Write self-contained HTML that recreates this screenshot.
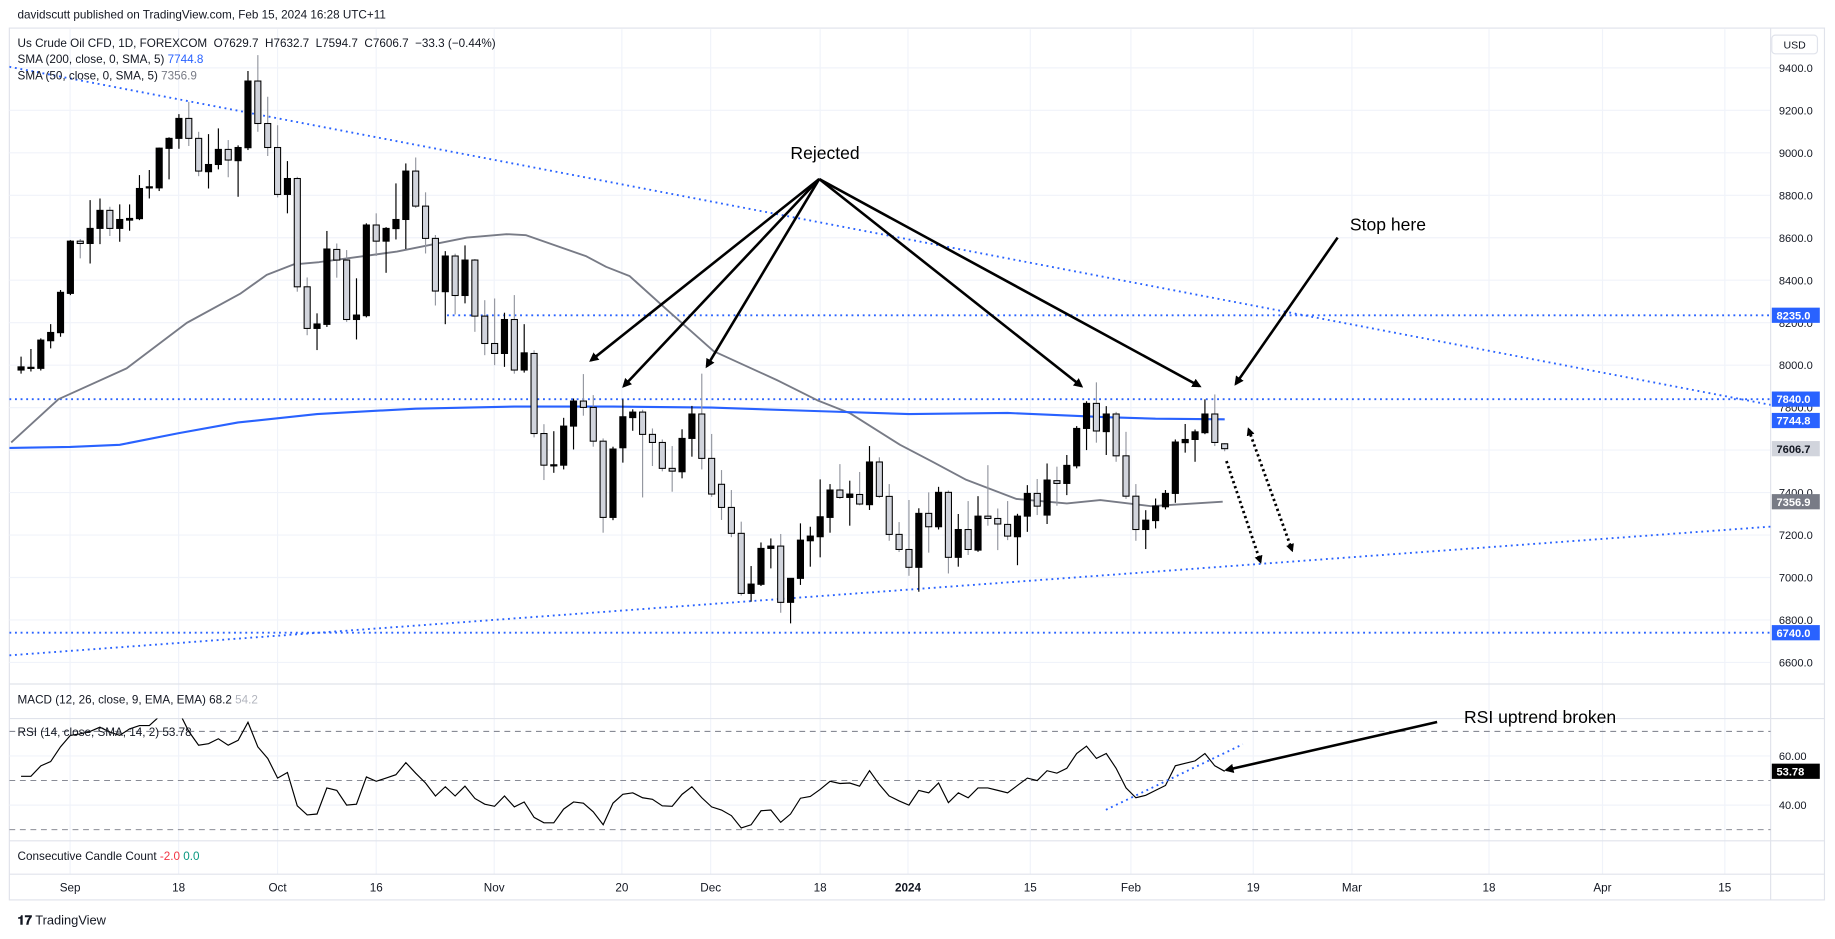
<!DOCTYPE html>
<html><head><meta charset="utf-8">
<style>
html,body{margin:0;padding:0;background:#fff;}
svg{display:block;font-family:"Liberation Sans",sans-serif;}
</style></head>
<body>
<svg id="chart" width="1835" height="939" viewBox="0 0 1568 802.4" preserveAspectRatio="none" xmlns="http://www.w3.org/2000/svg">
<defs>
<marker id="ah" markerWidth="8" markerHeight="8" refX="6" refY="4" orient="auto" markerUnits="userSpaceOnUse"><path d="M0,0 L8,4 L0,8 z" fill="#000"/></marker>
<marker id="ahs" markerWidth="7" markerHeight="7" refX="5" refY="3.5" orient="auto" markerUnits="userSpaceOnUse"><path d="M0,0 L7,3.5 L0,7 z" fill="#000"/></marker>
<marker id="ahr" markerWidth="7" markerHeight="7" refX="2" refY="3.5" orient="auto" markerUnits="userSpaceOnUse"><path d="M7,0 L0,3.5 L7,7 z" fill="#000"/></marker>
<clipPath id="mainClip"><rect x="8" y="25" width="1505" height="559"/></clipPath>
<clipPath id="rsiClip"><rect x="8" y="614" width="1505" height="104"/></clipPath>
</defs>
<rect x="0" y="0" width="1568" height="802.4" fill="#fff"/>
<text x="15" y="16" font-size="10" fill="#131722">davidscutt published on TradingView.com, Feb 15, 2024 16:28 UTC+11</text>
<rect x="8" y="24" width="1551" height="745" fill="none" stroke="#e0e3eb" stroke-width="1"/>
<g id="grid"></g>
<g id="panes"></g>
<g id="mainLayer" clip-path="url(#mainClip)"></g>
<g id="rsiLayer" clip-path="url(#rsiClip)"></g>
<g id="axisLayer"></g>
<g id="annot"></g>
<text x="15" y="40" font-size="10" fill="#131722" xml:space="preserve">Us Crude Oil CFD, 1D, FOREXCOM  O7629.7  H7632.7  L7594.7  C7606.7  −33.3 (−0.44%)</text>
<text x="15" y="54" font-size="10" fill="#131722">SMA (200, close, 0, SMA, 5) <tspan fill="#2962ff">7744.8</tspan></text>
<text x="15" y="68" font-size="10" fill="#131722">SMA (50, close, 0, SMA, 5) <tspan fill="#787b86">7356.9</tspan></text>
<text x="15" y="601" font-size="10" fill="#131722">MACD (12, 26, close, 9, EMA, EMA)  68.2 <tspan fill="#b2b5be">54.2</tspan></text>
<text x="15" y="629" font-size="10" fill="#131722">RSI (14, close, SMA, 14, 2)  53.78</text>
<text x="15" y="735" font-size="10" fill="#131722">Consecutive Candle Count  <tspan fill="#f23645">-2.0</tspan> <tspan fill="#089981">0.0</tspan></text>
<text x="15" y="790" font-size="11" fill="#131722"><tspan font-weight="bold">𝟏𝟕</tspan> TradingView</text>
<g><rect x="1514" y="30" width="39" height="16" rx="3" fill="#fff" stroke="#e0e3eb"/><text x="1533.5" y="41.5" font-size="9" text-anchor="middle" fill="#131722">USD</text></g>
</svg>
<script>
const opens=[7977,7985,7985,8115,8153,8338,8584,8573,8644,8729,8644,8683,8690,8836,8835,9021,9068,9162,9068,8911,8945,9016,8963,9024,9338,9138,9025,8804,8879,8369,8173,8192,8545,8495,8215,8233,8660,8584,8643,8686,8914,8749,8597,8346,8514,8328,8495,8231,8102,8055,8215,7977,8055,7678,7527,7529,7713,7831,7801,7642,7283,7611,7753,7779,7674,7636,7514,7498,7655,7770,7561,7439,7330,7208,6925,6968,7137,7148,6883,6996,7173,7192,7283,7412,7377,7391,7343,7544,7382,7203,7132,7048,7302,7239,7401,7095,7226,7129,7289,7278,7250,7192,7289,7396,7294,7456,7443,7526,7702,7820,7687,7770,7573,7383,7226,7268,7333,7396,7635,7650,7682,7770,7629.7];
const highs=[8040,8076,8126,8193,8354,8589,8594,8777,8785,8746,8757,8757,8895,8919,9025,9073,9182,9240,9099,9088,9115,9060,9035,9385,9460,9264,9130,8961,8887,8413,8244,8632,8573,8542,8409,8668,8715,8650,8856,8950,8978,8814,8613,8537,8525,8564,8500,8306,8314,8247,8330,8193,8070,7722,7689,7752,7843,7958,7859,7655,7616,7839,7792,7790,7702,7650,7619,7698,7808,7960,7676,7506,7412,7263,7054,7165,7184,7205,6996,7255,7239,7462,7440,7534,7456,7497,7619,7566,7440,7261,7365,7326,7401,7427,7410,7299,7360,7383,7529,7325,7360,7300,7435,7464,7537,7522,7577,7713,7830,7919,7807,7780,7686,7440,7317,7372,7412,7650,7723,7697,7839,7862,7632.7];
const lows=[7960,7970,7975,8079,8134,8330,8503,8479,8570,8608,8581,8633,8683,8785,8820,8875,9019,9032,8890,8832,8922,8885,8793,9013,9099,8985,8790,8715,8346,8141,8071,8180,8412,8204,8121,8225,8514,8435,8592,8547,8740,8526,8281,8193,8239,8291,8157,8047,8000,7992,7960,7965,7660,7459,7493,7509,7603,7762,7616,7211,7270,7541,7691,7377,7525,7500,7404,7467,7569,7509,7380,7271,7190,6915,6886,6960,7043,6834,6784,6965,7051,7095,7211,7370,7244,7340,7318,7375,7173,7120,7008,6933,7117,7226,7019,7051,7106,7121,7244,7129,7176,7058,7215,7294,7252,7338,7388,7514,7600,7635,7577,7545,7370,7173,7134,7231,7321,7352,7588,7545,7675,7619,7594.7];
const closes=[7992,7990,8118,8154,8343,8584,8573,8644,8729,8644,8686,8691,8832,8840,9022,9068,9162,9068,8914,8945,9016,8966,9025,9338,9138,9025,8804,8879,8369,8173,8194,8547,8495,8215,8236,8660,8584,8644,8686,8914,8749,8597,8349,8514,8328,8495,8231,8102,8055,8215,7977,8058,7678,7529,7531,7713,7831,7801,7642,7283,7605,7757,7779,7674,7636,7514,7501,7655,7770,7561,7393,7330,7208,6925,6969,7137,7148,6883,6996,7176,7195,7286,7412,7377,7393,7346,7544,7382,7203,7132,7048,7302,7239,7401,7095,7226,7132,7289,7278,7252,7195,7289,7396,7336,7459,7443,7528,7702,7820,7690,7770,7573,7383,7226,7270,7336,7396,7638,7650,7686,7770,7636,7606.7];
const sma200Bars=[-1.2,5,10,16,22,30,40,50,60,70,80,90,100,110,115,122];
const sma200Vals=[7610,7615,7625,7680,7730,7770,7795,7805,7805,7800,7785,7770,7775,7755,7748,7745];
const sma50Bars=[-1,3.8,10.7,16.8,22.2,24.9,27.6,30.2,33,38.1,45.2,49.2,51.2,57.3,59.3,61.7,65.5,70.2,76.6,80.7,84,89.1,92.4,95.8,100.9,106,109.4,114.5,121.8];
const sma50Vals=[7636,7840,7985,8199,8336,8425,8474,8485,8503,8535,8601,8617,8612,8513,8463,8419,8259,8066,7930,7835,7774,7625,7545,7460,7370,7349,7365,7336,7357];
const rsiVals=[51.7,51.7,56,57.7,63.7,68.4,69,70,71.7,69.7,68.4,71,72.4,72.4,76,80,78,70,64.4,65,67,64.4,66.4,73.7,63.7,59,51,53.3,39.7,36,36.4,47,46,40,40.4,51.5,49.7,51,52.4,57.3,53,49,43.7,47.5,43.7,47.7,42.7,40.4,39.5,43.7,39.3,41.3,35,32.8,32.8,38.4,41.3,40.8,37.3,32,40.8,44.4,45,43,42.4,39.7,39.5,44.4,47.5,43,39.3,38,35.7,30.7,32,37.7,38,33,36.4,42.8,43.5,46.4,49.7,48.8,49,47.7,54,48.4,43.7,41.7,40,46,45,49,41,45,43,47,47,46,45,48,51,50,54,53,55,61,64,59,61,55,47,43,44,46,48,56,57,58,61,56,53.78];
const priceTicks=[9400,9200,9000,8800,8600,8400,8200,8000,7800,7600,7400,7200,7000,6800,6600];
const timeLabels=["Sep","18","Oct","16","Nov","20","Dec","18","2024","15","Feb","19","Mar","18","Apr","15"];
const timeLabelBars=[4.97,15.97,26,36,47.96,60.9,69.9,81,89.9,102.3,112.5,124.9,134.9,148.8,160.3,172.7];
const levels=[8235,7840,6740];

const NS="http://www.w3.org/2000/svg";
const X0=18, BW=8.43, PLOT_R=1513;
function xOf(i){return X0+i*BW;}
function yP(p){return 58+(9400-p)/5.511;}
function yR(v){return 667-(v-50)*2.1;}
function mk(tag,attrs,parent){const e=document.createElementNS(NS,tag);for(const k in attrs)e.setAttribute(k,attrs[k]);parent.appendChild(e);return e;}

const grid=document.getElementById('grid');
const panes=document.getElementById('panes');
const main=document.getElementById('mainLayer');
const rsiL=document.getElementById('rsiLayer');
const axis=document.getElementById('axisLayer');
const annot=document.getElementById('annot');

priceTicks.forEach(p=>{
  const l=mk('line',{x1:8,x2:PLOT_R,y1:yP(p),y2:yP(p),stroke:'#f0f3fa','stroke-width':1},grid);
  
  
});
[60,40].forEach(v=>{
  const l=mk('line',{x1:8,x2:PLOT_R,y1:yR(v),y2:yR(v),stroke:'#f0f3fa','stroke-width':1},grid);
  
  
});
timeLabelBars.forEach(b=>{
  const x=xOf(b);
  const l=mk('line',{x1:x,x2:x,y1:25,y2:747,stroke:'#f0f3fa','stroke-width':1},grid);
  
  
});
[584.5,614,718.5,747].forEach(y=>{
  const l=mk('line',{x1:8,x2:1559,y1:y,y2:y,stroke:'#e0e3eb','stroke-width':1},panes);
  
  
});
const sep=mk('line',{x1:PLOT_R,x2:PLOT_R,y1:24,y2:769,stroke:'#e0e3eb','stroke-width':1},panes);



function dotted(x1,y1,x2,y2,name,parent){
  const l=mk('line',{x1:x1,y1:y1,x2:x2,y2:y2,stroke:'#2962ff','stroke-width':1.6,'stroke-dasharray':'1.6 3.2'},parent);
  
  
}
dotted(8,yP(9405),PLOT_R,yP(7813),'descending-trendline',main);
dotted(8,560,PLOT_R,450,'ascending-trendline',main);
dotted(382,yP(levels[0]),PLOT_R,yP(levels[0]),'resistance-8235',main);
dotted(8,yP(levels[1]),PLOT_R,yP(levels[1]),'resistance-7840',main);
dotted(8,yP(levels[2]),PLOT_R,yP(levels[2]),'support-6740',main);

function polyPts(bars,vals){return bars.map((b,k)=>xOf(b).toFixed(1)+','+yP(vals[k]).toFixed(1)).join(' ');}
const s50=mk('polyline',{points:polyPts(sma50Bars,sma50Vals),fill:'none',stroke:'#787b86','stroke-width':1.6,'stroke-linejoin':'round'},main);


const s200=mk('polyline',{points:polyPts(sma200Bars,sma200Vals),fill:'none',stroke:'#2962ff','stroke-width':1.8,'stroke-linejoin':'round'},main);



for(let i=0;i<closes.length;i++){
  const o=opens[i],c=closes[i],h=highs[i],lo=lows[i];
  const up=c>=o;
  const x=xOf(i);
  const g=mk('g',{},main);
  
  
  mk('line',{x1:x,x2:x,y1:yP(h),y2:yP(lo),stroke:up?'#000':'#9598a1','stroke-width':1},g);
  const top=yP(Math.max(o,c)),bot=yP(Math.min(o,c));
  mk('rect',{x:x-2.6,y:top,width:5.2,height:Math.max(bot-top,1),fill:up?'#000':'#d1d4dc',stroke:'#000','stroke-width':0.9},g);
}

[70,50,30].forEach(v=>{
  const l=mk('line',{x1:8,x2:PLOT_R,y1:yR(v),y2:yR(v),stroke:'#787b86','stroke-width':0.8,'stroke-dasharray':'5 4'},rsiL);
  
  
});
const rsiLine=mk('polyline',{points:rsiVals.map((v,i)=>xOf(i).toFixed(1)+','+yR(v).toFixed(1)).join(' '),fill:'none',stroke:'#000','stroke-width':1},rsiL);


const rsiTrend=mk('line',{x1:945,y1:692,x2:1062,y2:636,stroke:'#2962ff','stroke-width':1.6,'stroke-dasharray':'1.6 3.2'},rsiL);



priceTicks.forEach(p=>{
  const t=mk('text',{x:1520,y:yP(p)+3.5,'font-size':9.5,fill:'#131722'},axis);
  t.textContent=p.toFixed(1);
  
  
});
[60,40].forEach(v=>{
  const t=mk('text',{x:1520,y:yR(v)+3.5,'font-size':9.5,fill:'#131722'},axis);
  t.textContent=v.toFixed(2);
  
  
});
function badge(y,txt,bg,fg,name){
  const g=mk('g',{},axis);
  
  
  mk('rect',{x:1514,y:y-6.5,width:41,height:13,fill:bg},g);
  const t=mk('text',{x:1518,y:y+3.5,'font-size':9.5,fill:fg,'font-weight':'bold'},g);
  t.textContent=txt;
}
badge(yP(levels[0]),'8235.0','#2962ff','#fff','badge-8235');
badge(yP(levels[1]),'7840.0','#2962ff','#fff','badge-7840');
badge(yP(7744.8)+1,'7744.8','#2962ff','#fff','badge-sma200');
badge(yP(7606.7),'7606.7','#d1d4dc','#131722','badge-last-price');
badge(yP(7356.9),'7356.9','#787b86','#fff','badge-sma50');
badge(yP(levels[2]),'6740.0','#2962ff','#fff','badge-6740');
badge(yR(53.78),'53.78','#000','#fff','badge-rsi');

timeLabels.forEach((s,k)=>{
  const t=mk('text',{x:xOf(timeLabelBars[k]),y:762,'font-size':10,fill:'#131722','text-anchor':'middle','font-weight':s==='2024'?'bold':'normal'},axis);
  t.textContent=s;
  
  
});

function arrow(x1,y1,x2,y2,name,w){
  const l=mk('line',{x1:x1,y1:y1,x2:x2,y2:y2,stroke:'#000','stroke-width':w||2.2,'marker-end':'url(#ah)'},annot);
  
  
}
const rej=mk('text',{x:705,y:136,'font-size':15,fill:'#000','text-anchor':'middle'},annot);
rej.textContent='Rejected';


[[505,308],[533,330],[604,313],[924,330],[1025,330]].forEach((p,k)=>arrow(700,153,p[0],p[1],'rejected-arrow-'+(k+1)));
const stop=mk('text',{x:1186,y:197,'font-size':15,fill:'#000','text-anchor':'middle'},annot);
stop.textContent='Stop here';


arrow(1143,203,1056,328,'stop-here-arrow');
const rb=mk('text',{x:1316,y:618,'font-size':15,fill:'#000','text-anchor':'middle'},annot);
rb.textContent='RSI uptrend broken';


arrow(1228,617,1048,658,'rsi-broken-arrow');
const d1=mk('line',{x1:1048,y1:394,x2:1077,y2:480,stroke:'#000','stroke-width':2.4,'stroke-dasharray':'2 2.5','marker-end':'url(#ahs)'},annot);


const d2=mk('line',{x1:1067,y1:367,x2:1104,y2:470,stroke:'#000','stroke-width':2.4,'stroke-dasharray':'2 2.5','marker-end':'url(#ahs)','marker-start':'url(#ahr)'},annot);


</script>
</body></html>
